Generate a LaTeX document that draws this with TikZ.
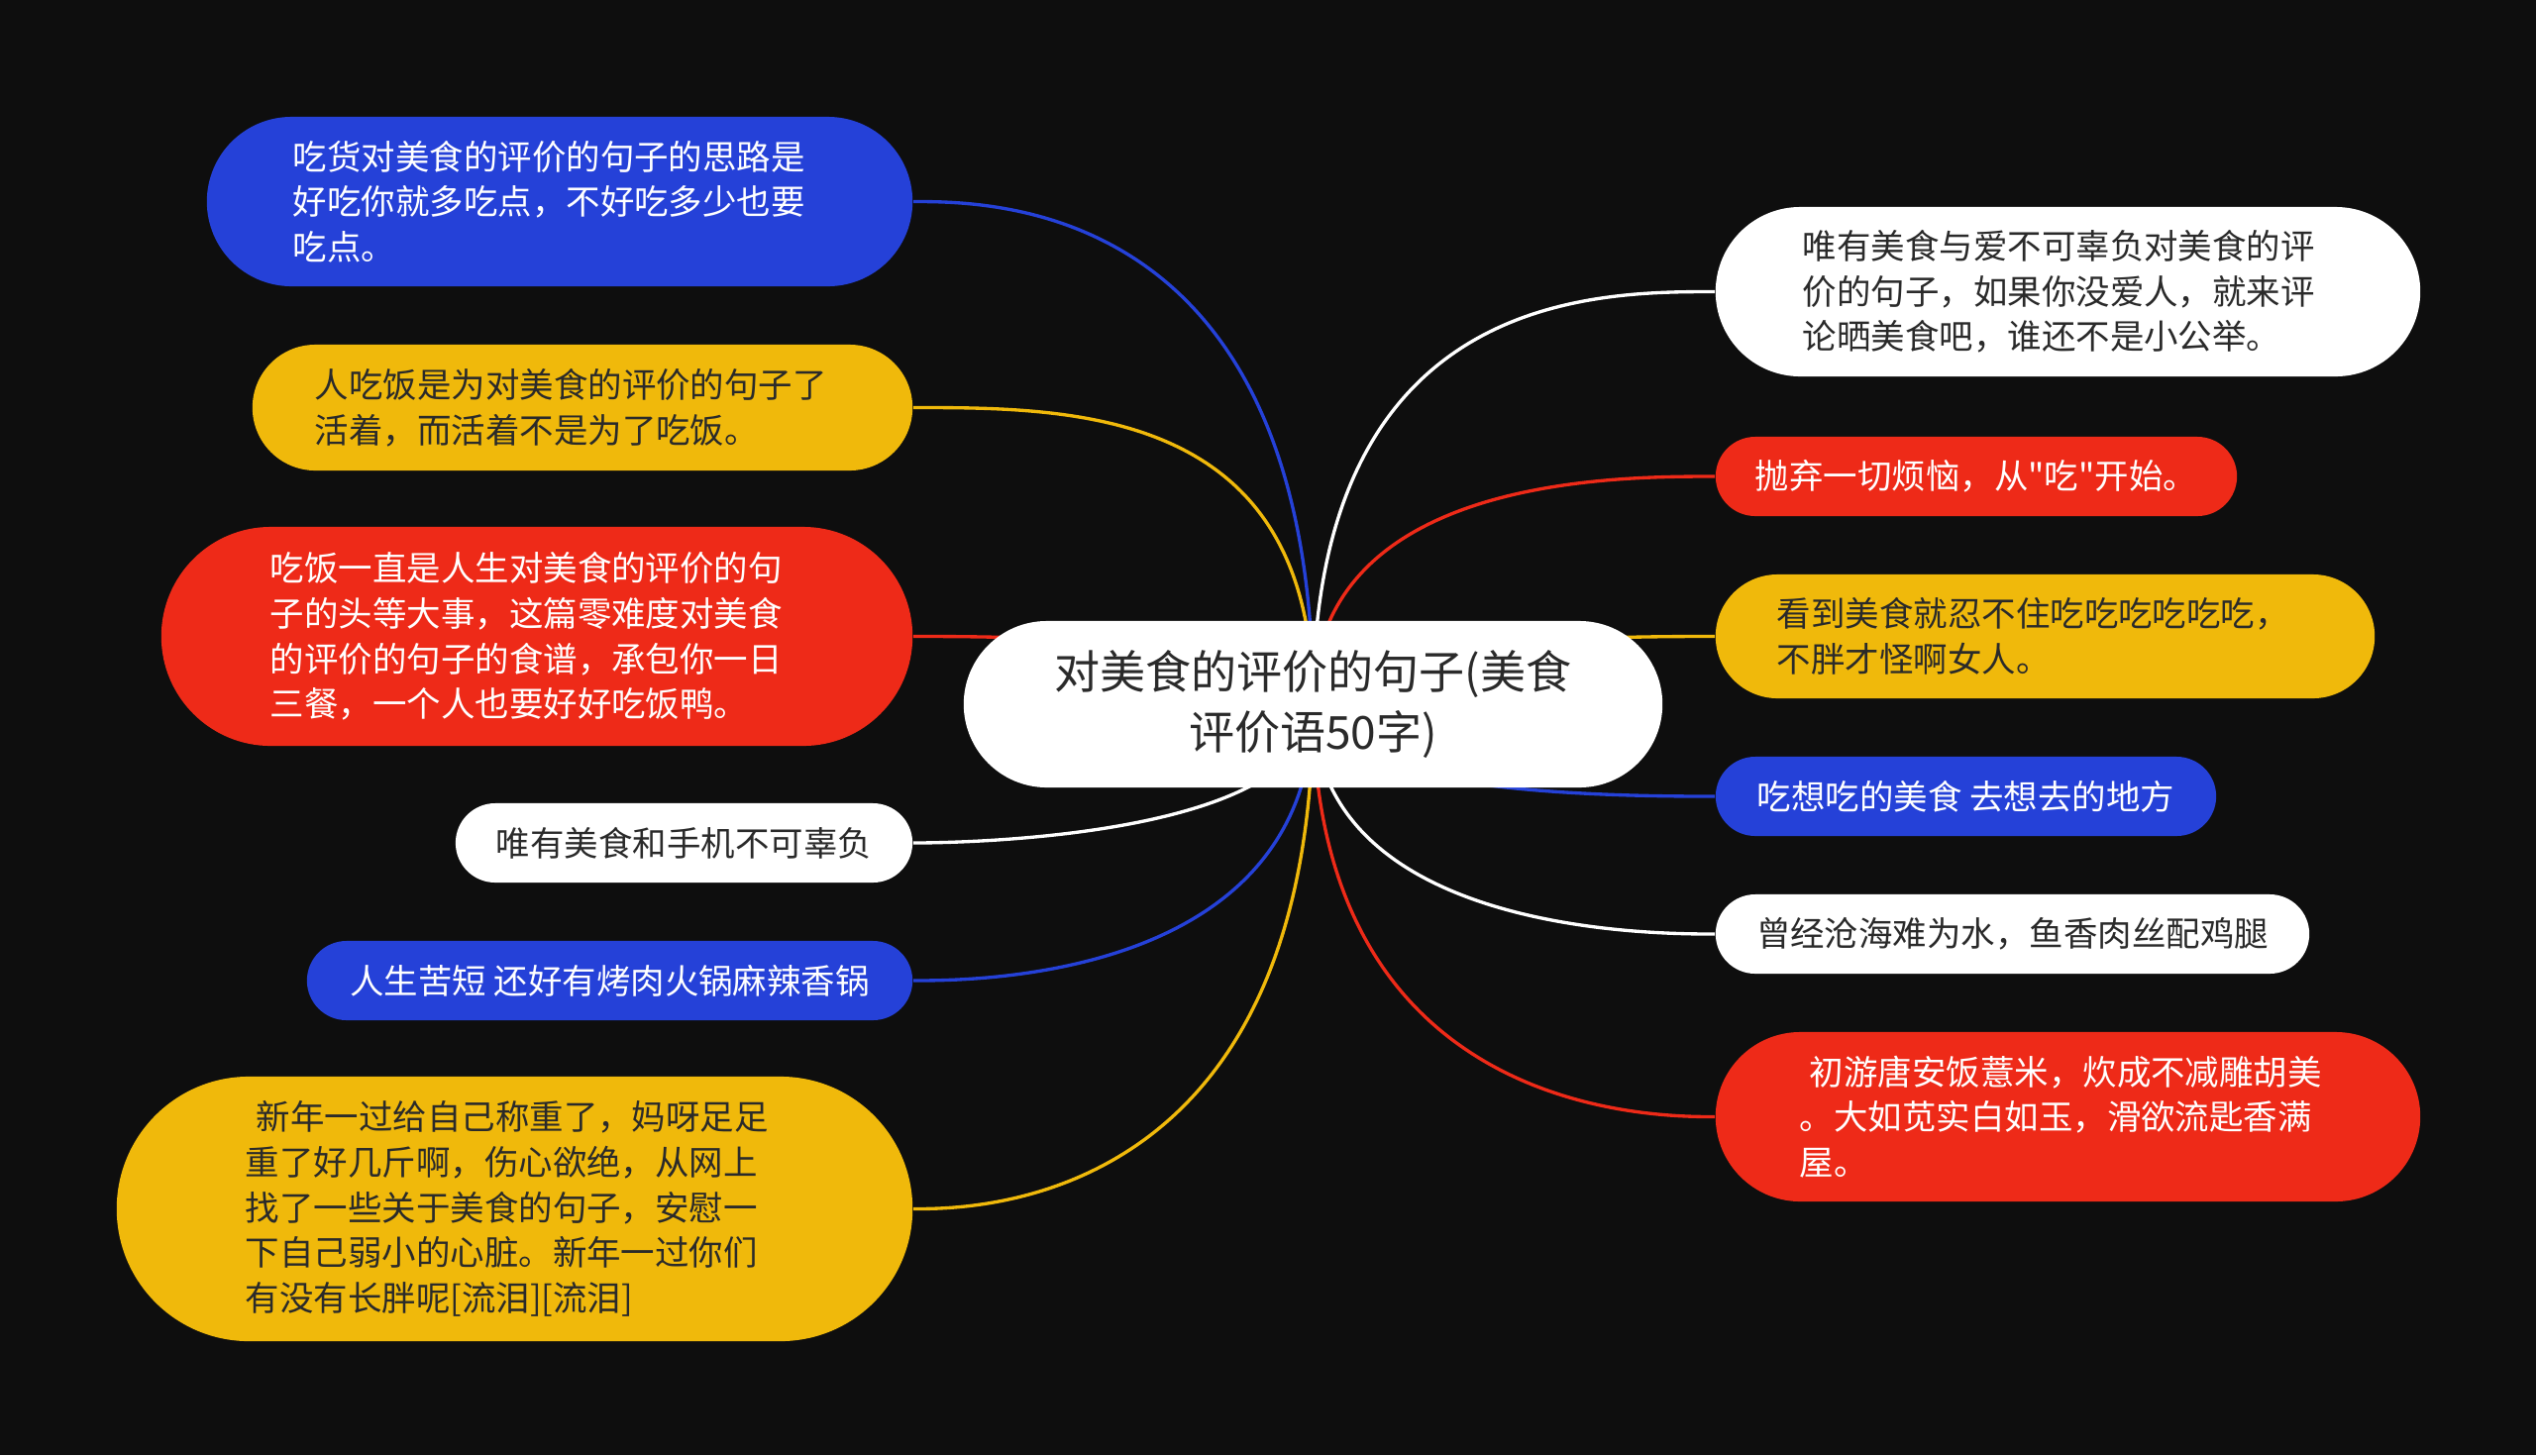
\documentclass[tikz,border=0pt]{standalone}
\usepackage{fontspec}
\setmainfont[Ligatures=TeXOff]{Noto Sans CJK SC}
\usetikzlibrary{calc}
\definecolor{bgc}{HTML}{0E0E0E}
\definecolor{cblue}{HTML}{2541D8}
\definecolor{cred}{HTML}{EE2A18}
\definecolor{cyel}{HTML}{F0B90B}
\definecolor{cdark}{HTML}{2A2A2A}
\pgfdeclarelayer{bglayer}
\pgfdeclarelayer{linelayer}
\pgfsetlayers{bglayer,linelayer,main}
\begin{document}
\begin{tikzpicture}[x=0.01cm,y=-0.01cm,
  bub/.style={rectangle, inner sep=0pt, align=left, font=\fontsize{9.8pt}{13pt}\selectfont},
  bblue/.style={bub, fill=cblue, text=white},
  bred/.style={bub, fill=cred, text=white},
  byel/.style={bub, fill=cyel, text=cdark},
  bwhite/.style={bub, fill=white, text=cdark},
  small/.style={minimum height=0.80cm, rounded corners=0.40cm, align=center},
  conn/.style={line width=0.95pt}]
\useasboundingbox (0,0) rectangle (2560,1469);
\begin{pgfonlayer}{bglayer}
\fill[bgc] (0,0) rectangle (2560,1469);
\end{pgfonlayer}

% centre
\node[fill=white, text=cdark, inner sep=0pt, minimum width=7.05cm, minimum height=1.68cm,
  rounded corners=0.84cm, align=center, font=\fontsize{13.1pt}{17.1pt}\selectfont]
  (c) at (1325.5,711) {对美食的评价的句子(美食\\评价语50字)};

% left side
\node[bblue, minimum width=7.12cm, minimum height=1.71cm, rounded corners=0.855cm, text width=5.38cm]
  (L1) at (565,203.5) {吃货对美食的评价的句子的思路是\\好吃你就多吃点，不好吃多少也要\\吃点。};
\node[byel, minimum width=6.66cm, minimum height=1.27cm, rounded corners=0.635cm, text width=5.40cm]
  (L2) at (588,411.5) {人吃饭是为对美食的评价的句子了\\活着，而活着不是为了吃饭。};
\node[bred, minimum width=7.58cm, minimum height=2.21cm, rounded corners=1.105cm, text width=5.38cm]
  (L3) at (542,642.5) {吃饭一直是人生对美食的评价的句\\子的头等大事，这篇零难度对美食\\的评价的句子的食谱，承包你一日\\三餐，一个人也要好好吃饭鸭。};
\node[bwhite, small, minimum width=4.61cm]
  (L4) at (690.5,851) {唯有美食和手机不可辜负};
\node[bblue, small, minimum width=6.11cm]
  (L5) at (615.5,990) {人生苦短 还好有烤肉火锅麻辣香锅};
\node[byel, minimum width=8.03cm, minimum height=2.67cm, rounded corners=1.335cm, text width=5.43cm]
  (L6) at (519.5,1220.5) {\hspace{0.11cm}新年一过给自己称重了，妈呀足足\\重了好几斤啊，伤心欲绝，从网上\\找了一些关于美食的句子，安慰一\\下自己弱小的心脏。新年一过你们\\有没有长胖呢[流泪][流泪]};

% right side
\node[bwhite, minimum width=7.11cm, minimum height=1.71cm, rounded corners=0.855cm, text width=5.35cm]
  (R1) at (2087.5,294.5) {唯有美食与爱不可辜负对美食的评\\价的句子，如果你没爱人，就来评\\论晒美食吧，谁还不是小公举。};
\node[bred, small, minimum width=5.26cm]
  (R2) at (1995,481) {抛弃一切烦恼，从"吃"开始。};
\node[byel, minimum width=6.65cm, minimum height=1.25cm, rounded corners=0.625cm, text width=5.41cm]
  (R3) at (2064.5,642.5) {看到美食就忍不住吃吃吃吃吃吃，\\不胖才怪啊女人。};
\node[bblue, small, minimum width=5.05cm]
  (R4) at (1984.5,804) {吃想吃的美食 去想去的地方};
\node[bwhite, small, minimum width=5.99cm]
  (R5) at (2031.5,943) {曾经沧海难为水，鱼香肉丝配鸡腿};
\node[bred, minimum width=7.11cm, minimum height=1.71cm, rounded corners=0.855cm, text width=5.41cm]
  (R6) at (2087.5,1127.5) {\hspace{0.10cm}初游唐安饭薏米，炊成不减雕胡美\\。大如苋实白如玉，滑欲流匙香满\\屋。};

% connectors
\begin{pgfonlayer}{linelayer}
\foreach \n/\k/\col in {L1/0.8/cblue, L2/0.6/cyel, L3/0.8/cred, L4/0.95/white, L5/0.85/cblue, L6/0.85/cyel}{
  \coordinate (p\n) at (c.center |- \n.east);
  \draw[conn, draw=\col] (c.center) .. controls (p\n) and ($(p\n)!\k!(\n.east)$) .. (\n.east);
}
\foreach \n/\k/\col in {R1/0.7/white, R2/0.75/cred, R3/0.8/cyel, R4/0.8/cblue, R5/0.85/white, R6/0.85/cred}{
  \coordinate (p\n) at (c.center |- \n.west);
  \draw[conn, draw=\col] (c.center) .. controls (p\n) and ($(p\n)!\k!(\n.west)$) .. (\n.west);
}
\end{pgfonlayer}
\end{tikzpicture}
\end{document}
